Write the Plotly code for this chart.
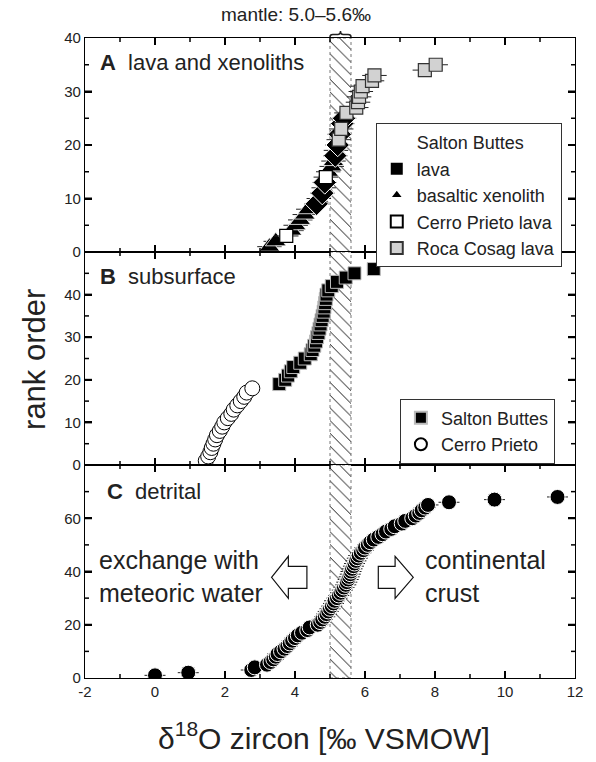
import plotly.graph_objects as go
from plotly.subplots import make_subplots

# ---------------- data: d18O zircon (permil VSMOW) vs. rank order ----------------
# Panel A: lava and xenoliths
xeno_rank = [1, 2, 4, 5, 6, 7, 8, 10, 12, 15, 16, 17, 19]
xeno_d18o = [3.27, 3.45, 3.90, 4.02, 4.15, 4.28, 4.38, 4.68, 4.82, 4.95, 5.05, 5.10, 5.17]

sb_lava_rank = [9, 11, 13, 18, 20, 22, 24, 25]
sb_lava_d18o = [4.62, 4.78, 4.85, 5.15, 5.22, 5.28, 5.35, 5.40]

cp_lava_rank = [3, 14]
cp_lava_d18o = [3.75, 4.88]

rc_lava_rank = [21, 23, 26, 27, 28, 29, 30, 31, 32, 33, 34, 35]
rc_lava_d18o = [5.25, 5.32, 5.47, 5.75, 5.80, 5.83, 5.88, 5.93, 6.20, 6.27, 7.71, 8.02]

lava_err = 0.35  # 2 s.d. analytical uncertainty, permil

# Panel B: subsurface
cp_sub_rank = list(range(1, 19))
cp_sub_d18o = [1.45, 1.52, 1.58, 1.62, 1.67, 1.72, 1.77, 1.85, 1.92,
               1.98, 2.08, 2.18, 2.25, 2.35, 2.45, 2.55, 2.62, 2.78]

sb_sub_rank = list(range(19, 47))
sb_sub_d18o = [3.55, 3.72, 3.80, 3.88, 3.95, 4.15, 4.28, 4.45, 4.50, 4.55,
               4.60, 4.63, 4.67, 4.70, 4.73, 4.76, 4.79, 4.82, 4.84, 4.86,
               4.88, 4.90, 4.95, 5.05, 5.20, 5.45, 5.70, 6.25]

# Panel C: detrital
det_rank = list(range(1, 69))
det_d18o = [0.00, 0.95, 2.75, 2.85, 3.20, 3.30, 3.38, 3.45, 3.50, 3.60,
            3.70, 3.78, 3.85, 3.92, 4.00, 4.08, 4.20, 4.35, 4.42, 4.65,
            4.72, 4.78, 4.85, 4.90, 4.95, 5.00, 5.05, 5.10, 5.13, 5.20,
            5.25, 5.30, 5.35, 5.40, 5.45, 5.48, 5.52, 5.55, 5.58, 5.60,
            5.63, 5.67, 5.70, 5.74, 5.78, 5.82, 5.88, 5.95, 6.00, 6.08,
            6.15, 6.25, 6.38, 6.50, 6.60, 6.75, 6.85, 7.05, 7.15, 7.35,
            7.45, 7.55, 7.62, 7.72, 7.80, 8.40, 9.70, 11.50]
det_err = 0.3

# mantle zircon range
mantle_lo, mantle_hi = 5.0, 5.6

x_range = [-2, 12]
x_ticks = [-2, 0, 2, 4, 6, 8, 10, 12]
x_minor = [-1, 1, 3, 5, 7, 9, 11]
y_max = [40, 50, 80]
y_ticks = [[0, 10, 20, 30, 40], [0, 10, 20, 30, 40], [0, 20, 40, 60]]
y_minor = [[5, 15, 25, 35], [5, 15, 25, 35, 45], [10, 30, 50, 70]]

FONT = "Liberation Sans, Arial, sans-serif"

fig = make_subplots(rows=3, cols=1, shared_xaxes=True, vertical_spacing=0)

# hatched mantle band in every panel
for r in range(1, 4):
    top = y_max[r - 1]
    fig.add_trace(go.Scatter(
        x=[mantle_lo, mantle_hi, mantle_hi, mantle_lo, mantle_lo],
        y=[0, 0, top, top, 0],
        mode="lines", fill="toself", fillcolor="white",
        fillpattern=dict(shape="\\", fgcolor="black", bgcolor="white",
                         size=9, solidity=0.1, fillmode="replace"),
        line=dict(color="#777777", width=1, dash="dot"),
        hoverinfo="skip", showlegend=False), row=r, col=1)

err_style = dict(type="constant", thickness=1, width=0, color="#222222")

# ---- panel A ----
fig.add_trace(go.Scatter(
    x=xeno_d18o, y=xeno_rank, mode="markers", name="basaltic xenolith",
    error_x=dict(value=lava_err, **err_style),
    marker=dict(symbol="triangle-up", size=18, color="black",
                line=dict(color="white", width=0.8)),
    legend="legend", legendrank=3), row=1, col=1)
fig.add_trace(go.Scatter(
    x=sb_lava_d18o, y=sb_lava_rank, mode="markers", name="lava",
    error_x=dict(value=lava_err, **err_style),
    marker=dict(symbol="diamond", size=18, color="black",
                line=dict(color="white", width=1)),
    showlegend=False), row=1, col=1)
fig.add_trace(go.Scatter(
    x=cp_lava_d18o, y=cp_lava_rank, mode="markers", name="Cerro Prieto lava",
    error_x=dict(value=lava_err, **err_style),
    marker=dict(symbol="square", size=13, color="white",
                line=dict(color="black", width=1.2)),
    legend="legend", legendrank=4), row=1, col=1)
fig.add_trace(go.Scatter(
    x=rc_lava_d18o, y=rc_lava_rank, mode="markers", name="Roca Cosag lava",
    error_x=dict(value=lava_err, **err_style),
    marker=dict(symbol="square", size=13, color="#d2d2d2",
                line=dict(color="#333333", width=1.2)),
    legend="legend", legendrank=5), row=1, col=1)
# legend-only entries
fig.add_trace(go.Scatter(
    x=[None], y=[None], mode="markers", name="Salton Buttes",
    marker=dict(symbol="square", size=12, color="rgba(0,0,0,0)"),
    legend="legend", legendrank=1), row=1, col=1)
fig.add_trace(go.Scatter(
    x=[None], y=[None], mode="markers", name="lava",
    marker=dict(symbol="square", size=12, color="black"),
    legend="legend", legendrank=2), row=1, col=1)

# ---- panel B ----
fig.add_trace(go.Scatter(
    x=sb_sub_d18o, y=sb_sub_rank, mode="markers", name="Salton Buttes",
    marker=dict(symbol="square", size=13, color="black",
                line=dict(color="#bbbbbb", width=1)),
    legend="legend2", legendrank=1), row=2, col=1)
fig.add_trace(go.Scatter(
    x=cp_sub_d18o, y=cp_sub_rank, mode="markers", name="Cerro Prieto",
    marker=dict(symbol="circle", size=15, color="white",
                line=dict(color="black", width=1)),
    legend="legend2", legendrank=2), row=2, col=1)

# ---- panel C ----
fig.add_trace(go.Scatter(
    x=det_d18o, y=det_rank, mode="markers", name="detrital",
    error_x=dict(value=det_err, **err_style),
    marker=dict(symbol="circle", size=15, color="black",
                line=dict(color="white", width=1)),
    showlegend=False), row=3, col=1)

# ---------------- axes ----------------
MAJ, MIN = 7, 4
axis_common = dict(showline=True, linecolor="black", linewidth=1.2, mirror="ticks",
                   ticks="inside", ticklen=MAJ, tickwidth=2, tickcolor="black",
                   showgrid=False, zeroline=False,
                   tickfont=dict(family=FONT, size=15, color="#222"))
fig.update_xaxes(range=x_range, tickmode="array", tickvals=x_ticks,
                 ticktext=[str(v) for v in x_ticks], **axis_common)
domains = [[0.6656, 1.0], [0.3328, 0.6656], [0.0, 0.3328]]
for r in range(1, 4):
    fig.update_yaxes(range=[0, y_max[r - 1]], tickmode="array",
                     tickvals=y_ticks[r - 1],
                     ticktext=[str(v) for v in y_ticks[r - 1]],
                     domain=domains[r - 1], row=r, col=1, **axis_common)

# ---------------- inward minor/major tick marks on all four sides ----------------
PLOT_W, PANEL_H = 490.0, 213.0
shapes = []
for r in range(1, 4):
    xa = "x" if r == 1 else f"x{r}"
    ya = "y" if r == 1 else f"y{r}"
    for vals, ln, w in ((x_ticks, MAJ, 2), (x_minor, MIN, 1.5)):
        f = ln / PANEL_H
        for v in vals:
            if v in x_range:
                continue
            for base, tip in ((0, f), (1, 1 - f)):
                shapes.append(dict(type="line", xref=xa, yref=f"{ya} domain",
                                   x0=v, x1=v, y0=base, y1=tip,
                                   line=dict(color="black", width=w)))
    for vals, ln, w in ((y_ticks[r - 1], MAJ, 2), (y_minor[r - 1], MIN, 1.5)):
        f = ln / PLOT_W
        for v in vals:
            if v in (0, y_max[r - 1]):
                continue
            for base, tip in ((0, f), (1, 1 - f)):
                shapes.append(dict(type="line", xref=f"{xa} domain", yref=ya,
                                   x0=base, x1=tip, y0=v, y1=v,
                                   line=dict(color="black", width=w)))

# ---------------- annotations ----------------
ann = []
ann.append(dict(x=0.026, y=0.961, xref="paper", yref="paper", xanchor="left",
                yanchor="middle", showarrow=False,
                text="<b>A</b>  lava and xenoliths",
                font=dict(family=FONT, size=22, color="#222")))
ann.append(dict(x=0.026, y=0.628, xref="paper", yref="paper", xanchor="left",
                yanchor="middle", showarrow=False,
                text="<b>B</b>  subsurface",
                font=dict(family=FONT, size=22, color="#222")))
ann.append(dict(x=0.041, y=0.291, xref="paper", yref="paper", xanchor="left",
                yanchor="middle", showarrow=False,
                text="<b>C</b>  detrital",
                font=dict(family=FONT, size=22, color="#222")))
ann.append(dict(x=0.024, y=0.158, xref="paper", yref="paper", xanchor="left",
                yanchor="middle", align="left", showarrow=False,
                text="exchange with<br>meteoric water",
                font=dict(family=FONT, size=25, color="#222")))
ann.append(dict(x=0.690, y=0.158, xref="paper", yref="paper", xanchor="left",
                yanchor="middle", align="left", showarrow=False,
                text="continental<br>crust",
                font=dict(family=FONT, size=25, color="#222")))
ann.append(dict(x=0.431, y=1.036, xref="paper", yref="paper", xanchor="center",
                yanchor="middle", showarrow=False,
                text="mantle: %.1f\u2013%.1f\u2030" % (mantle_lo, mantle_hi),
                font=dict(family=FONT, size=19, color="#222")))
ann.append(dict(x=-0.102, y=0.497, xref="paper", yref="paper", xanchor="center",
                yanchor="middle", showarrow=False, textangle=-90,
                text="rank order",
                font=dict(family=FONT, size=31, color="#222")))
ann.append(dict(x=0.488, y=-0.09, xref="paper", yref="paper", xanchor="center",
                yanchor="middle", showarrow=False,
                text="\u03b4<sup>18</sup>O zircon [\u2030 VSMOW]",
                font=dict(family=FONT, size=30, color="#222")))

# ---------------- brace over mantle band, block arrows in panel C ----------------
mid = (mantle_lo + mantle_hi) / 2
p0, p1, p2 = 1.0 + 1 / 640, 1.0 + 3.5 / 640, 1.0 + 7 / 640
d = 0.08
brace = (f"M {mantle_lo},{p0} Q {mantle_lo},{p1} {mantle_lo + d},{p1} "
         f"L {mid - d},{p1} Q {mid},{p1} {mid},{p2} "
         f"Q {mid},{p1} {mid + d},{p1} L {mantle_hi - d},{p1} "
         f"Q {mantle_hi},{p1} {mantle_hi},{p0}")
shapes.append(dict(type="path", xref="x", yref="paper", path=brace,
                   line=dict(color="#222", width=1.5)))

ay, ah, sh = 37.8, 7.9, 4.1     # centre rank, head half-height, shaft half-height
left_arrow = (f"M 3.33,{ay} L 3.81,{ay + ah} L 3.81,{ay + sh} L 4.34,{ay + sh} "
              f"L 4.34,{ay - sh} L 3.81,{ay - sh} L 3.81,{ay - ah} Z")
right_arrow = (f"M 7.38,{ay} L 6.86,{ay + ah} L 6.86,{ay + sh} L 6.38,{ay + sh} "
               f"L 6.38,{ay - sh} L 6.86,{ay - sh} L 6.86,{ay - ah} Z")
for p in (left_arrow, right_arrow):
    shapes.append(dict(type="path", xref="x3", yref="y3", path=p,
                       fillcolor="white", line=dict(color="#111", width=1.2)))

legend_common = dict(bgcolor="white", bordercolor="#333", borderwidth=1,
                     font=dict(family=FONT, size=18, color="#222"),
                     itemsizing="constant", traceorder="normal",
                     tracegroupgap=0)

fig.update_layout(
    width=596, height=762,
    margin=dict(l=85, r=21, t=38, b=84),
    plot_bgcolor="white", paper_bgcolor="white",
    font=dict(family=FONT, color="#222"),
    annotations=ann, shapes=shapes,
    legend=dict(x=0.973, y=0.867, xanchor="right", yanchor="top", **legend_common),
    legend2=dict(x=0.959, y=0.335, xanchor="right", yanchor="bottom", **legend_common),
)

fig.write_html("out.html")
